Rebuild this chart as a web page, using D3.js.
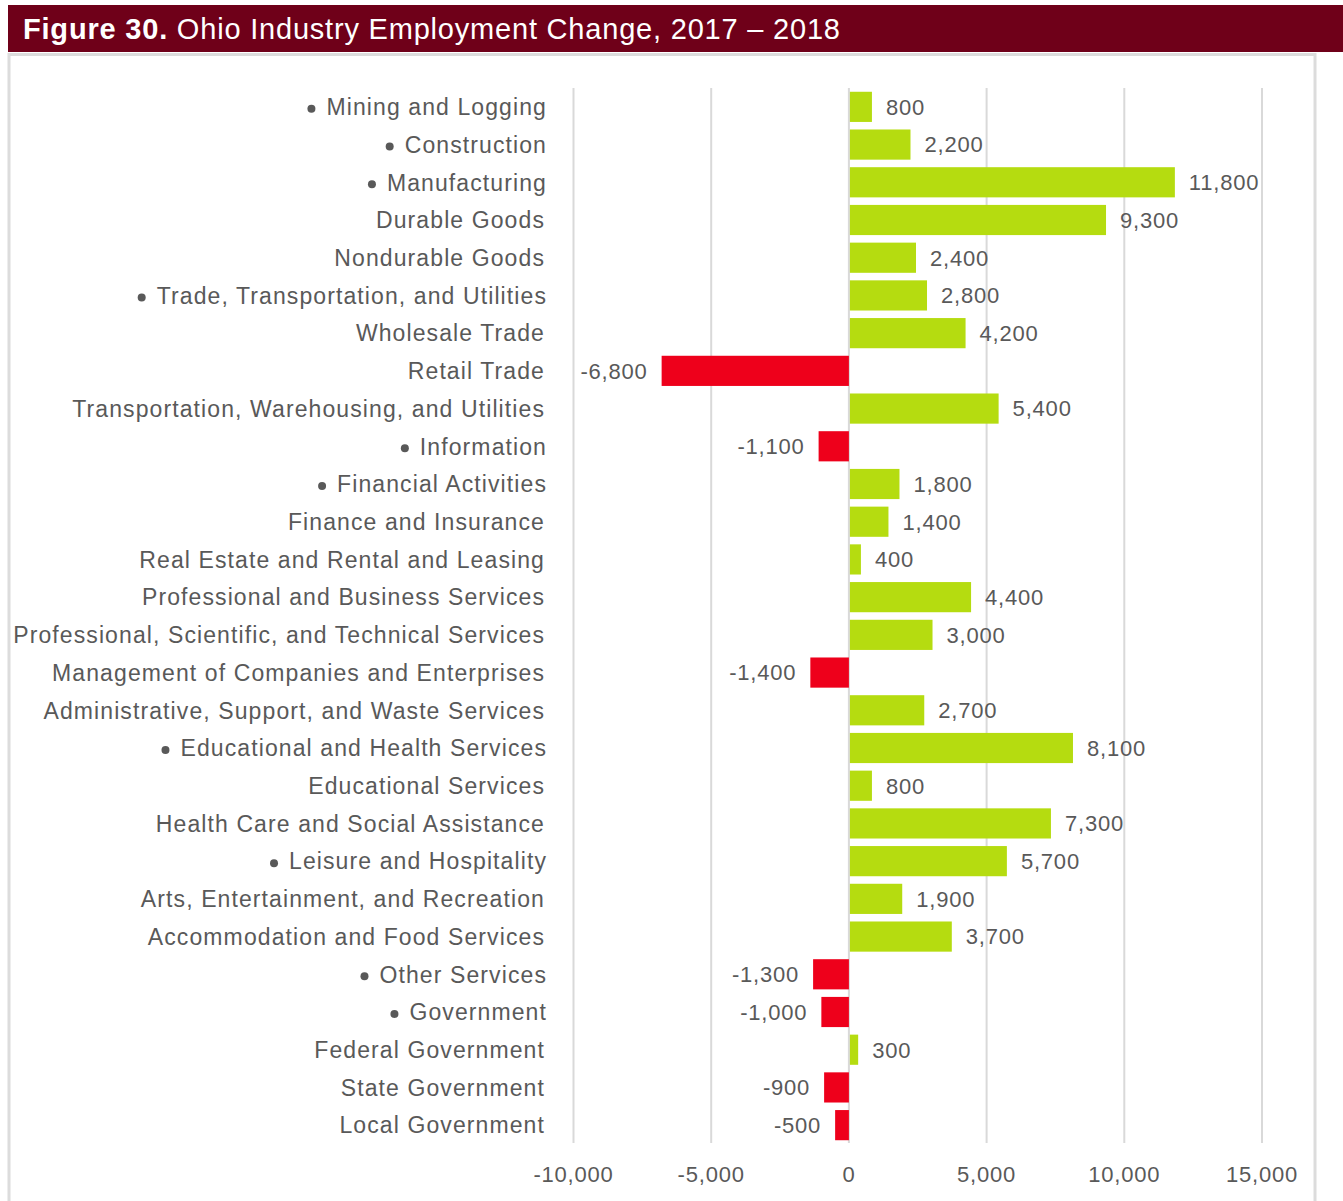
<!DOCTYPE html>
<html>
<head>
  <meta charset="utf-8">
  <title>Ohio Industry Employment Change</title>
  <script src="https://d3js.org/d3.v7.min.js"></script>
  <style>
    body { margin: 0; background: #fff; }
    text { font-family: "Liberation Sans", Arial, sans-serif; }
  </style>
</head>
<body>
  <svg id="chart"></svg>

  <script>
    // industries (top to bottom) and 2017-2018 change
    var industries = [
      "Mining and Logging", "Construction", "Manufacturing", "Durable Goods",
      "Nondurable Goods", "Trade, Transportation, and Utilities", "Wholesale Trade",
      "Retail Trade", "Transportation, Warehousing, and Utilities", "Information",
      "Financial Activities", "Finance and Insurance", "Real Estate and Rental and Leasing",
      "Professional and Business Services", "Professional, Scientific, and Technical Services",
      "Management of Companies and Enterprises", "Administrative, Support, and Waste Services",
      "Educational and Health Services", "Educational Services",
      "Health Care and Social Assistance", "Leisure and Hospitality",
      "Arts, Entertainment, and Recreation", "Accommodation and Food Services",
      "Other Services", "Government", "Federal Government", "State Government",
      "Local Government"
    ];
    var change = [
      800, 2200, 11800, 9300, 2400, 2800, 4200, -6800, 5400, -1100,
      1800, 1400, 400, 4400, 3000, -1400, 2700, 8100, 800, 7300,
      5700, 1900, 3700, -1300, -1000, 300, -900, -500
    ];
    // supersectors carry a bullet in front of the label
    var supersectors = [
      "Mining and Logging", "Construction", "Manufacturing",
      "Trade, Transportation, and Utilities", "Information", "Financial Activities",
      "Educational and Health Services", "Leisure and Hospitality",
      "Other Services", "Government"
    ];
    var xTicks = [-10000, -5000, 0, 5000, 10000, 15000];

    var width = 1343, height = 1201;
    var svg = d3.select("#chart").attr("width", width).attr("height", height);

    // title bar
    svg.append("rect")
      .attr("x", 8).attr("y", 5).attr("width", width - 8).attr("height", 47)
      .attr("fill", "#6f0019");
    var title = svg.append("text")
      .attr("x", 23).attr("y", 39)
      .attr("fill", "#fff")
      .style("font-size", "29px")
      .style("letter-spacing", "0.8px");
    title.append("tspan").attr("font-weight", "bold").text("Figure 30.");
    title.append("tspan").text(" Ohio Industry Employment Change, 2017 \u2013 2018");

    // grey frame around the chart
    svg.append("rect")
      .attr("x", 9).attr("y", 54.5).attr("width", 1306).attr("height", 1200)
      .attr("fill", "none")
      .attr("stroke", "#dcdcdc")
      .attr("stroke-width", 3);

    var x = d3.scaleLinear().domain([-10000, 15000]).range([573.5, 1262]);
    var y = d3.scaleBand()
      .domain(industries)
      .range([88, 1144])
      .paddingInner(0.2)
      .paddingOuter(0.1);

    var data = industries.map(function(name, i) {
      return { name: name, value: change[i] };
    });
    // plain hyphen for negatives, like the original
    var fmt = d3.formatLocale({ decimal: ".", thousands: ",", grouping: [3], currency: ["", ""], minus: "-" }).format(",");
    var textColor = "#595959";
    var isSuper = function(d) { return supersectors.indexOf(d.name) >= 0; };

    // vertical gridlines
    svg.append("g").selectAll("line")
      .data(xTicks)
      .enter()
      .append("line")
      .attr("x1", function(d) { return x(d); })
      .attr("x2", function(d) { return x(d); })
      .attr("y1", 88).attr("y2", 1143)
      .attr("stroke", "#d9d9d9")
      .attr("stroke-width", 2);

    // tick labels
    svg.append("g").selectAll("text")
      .data(xTicks)
      .enter()
      .append("text")
      .attr("x", function(d) { return x(d); })
      .attr("y", 1182)
      .attr("text-anchor", "middle")
      .attr("fill", textColor)
      .style("font-size", "22px")
      .style("letter-spacing", "0.8px")
      .text(function(d) { return fmt(d); });

    // bars
    svg.append("g").selectAll("rect")
      .data(data)
      .enter()
      .append("rect")
      .attr("x", function(d) { return x(Math.min(0, d.value)) + (d.value > 0 ? 1 : 0); })
      .attr("y", function(d) { return y(d.name); })
      .attr("width", function(d) { return Math.abs(x(d.value) - x(0)); })
      .attr("height", y.bandwidth())
      .attr("fill", function(d) { return d.value < 0 ? "#ee001b" : "#b5dc10"; });

    // value labels
    svg.append("g").selectAll("text")
      .data(data)
      .enter()
      .append("text")
      .attr("x", function(d) { return d.value < 0 ? x(d.value) - 14 : x(d.value) + 15; })
      .attr("y", function(d) { return y(d.name) + y.bandwidth() / 2; })
      .attr("dy", "0.36em")
      .attr("text-anchor", function(d) { return d.value < 0 ? "end" : "start"; })
      .attr("fill", textColor)
      .style("font-size", "22px")
      .style("letter-spacing", "0.8px")
      .text(function(d) { return fmt(d.value); });

    // category labels
    var labels = svg.append("g").selectAll("text")
      .data(data)
      .enter()
      .append("text")
      .attr("x", function(d) { return isSuper(d) ? 547 : 545; })
      .attr("y", function(d) { return y(d.name) + y.bandwidth() / 2; })
      .attr("dy", "0.36em")
      .attr("text-anchor", "end")
      .attr("fill", textColor)
      .style("font-size", "23px")
      .style("letter-spacing", "1.1px")
      .text(function(d) { return d.name; });

    // bullet dot in front of the supersector labels
    labels.filter(isSuper).each(function(d) {
      var w = this.getComputedTextLength();
      svg.append("circle")
        .attr("cx", 547 - w - 15)
        .attr("cy", y(d.name) + y.bandwidth() / 2 + 2)
        .attr("r", 4)
        .attr("fill", textColor);
    });
  </script>
</body>
</html>
